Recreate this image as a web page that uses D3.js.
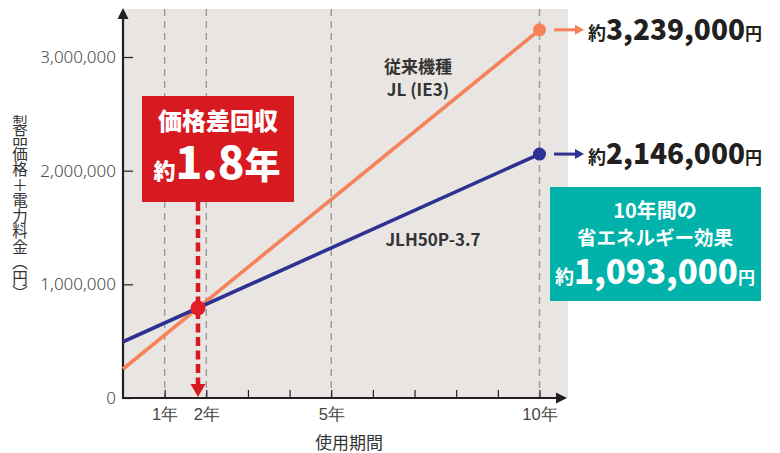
<!DOCTYPE html>
<html>
<head>
<meta charset="utf-8">
<script src="https://cdn.jsdelivr.net/npm/d3@7"></script>
<style>
  body { margin: 0; background: #fff; }
  svg { display: block; font-family: "Noto Sans CJK JP", "Noto Sans", sans-serif; }
</style>
</head>
<body>
<div id="chart"></div>
<script>
// chart values
const YEARS = [0, 10];
const JL_COST = [255000, 3239000];      // 従来機種 JL (IE3)
const JLH_COST = [495000, 2146000];     // JLH50P-3.7
const X_TICKS = [1, 2, 3, 4, 5, 6, 7, 8, 9, 10];
const X_LABELED = [1, 2, 5, 10];
const Y_TICKS = [0, 1000000, 2000000, 3000000];
const PAYBACK_LABEL = "1.8";
const SAVING_LABEL = "1,093,000";

const WIDTH = 780;
const HEIGHT = 453;
const ORANGE = "#F5825A";
const BLUE = "#2E3192";
const RED = "#D71920";
const TEAL = "#00B2A9";
const INK = "#231F20";

const svg = d3.select("#chart").append("svg")
  .attr("width", WIDTH)
  .attr("height", HEIGHT);

const xScale = d3.scaleLinear().domain([0, 10]).range([123, 539.5]);
const yScale = d3.scaleLinear().domain([0, 3000000]).range([398, 57]);
const x0 = xScale(0), yBase = yScale(0);

// plot background
svg.append("rect")
  .attr("x", x0).attr("y", 9)
  .attr("width", 568 - x0).attr("height", yBase - 9)
  .attr("fill", "#E8E5E2");

// dashed year guides
svg.append("g").selectAll("line")
  .data(X_LABELED)
  .join("line")
  .attr("x1", d => xScale(d)).attr("x2", d => xScale(d))
  .attr("y1", 9).attr("y2", yBase)
  .attr("stroke", "#9a9a9a")
  .attr("stroke-width", 1.4)
  .attr("stroke-dasharray", "7,5");

// y axis
const yAxis = svg.append("g")
  .attr("transform", `translate(${x0},0)`)
  .call(d3.axisLeft(yScale).tickValues(Y_TICKS).tickSize(-10).tickPadding(7)
    .tickFormat(d3.format(",")));
yAxis.select(".domain").remove();
yAxis.selectAll("line").attr("stroke", INK).attr("stroke-width", 1.2);
yAxis.selectAll("text")
  .attr("font-size", 17).attr("fill", "#4a4a4a")
  .attr("font-family", "'Noto Sans', sans-serif")
  .attr("font-weight", 300);

// x axis
const xAxis = svg.append("g")
  .attr("transform", `translate(0,${yBase})`)
  .call(d3.axisBottom(xScale).tickValues(X_TICKS).tickSize(-8).tickPadding(10)
    .tickFormat(d => X_LABELED.includes(d) ? d + "年" : ""));
xAxis.select(".domain").remove();
xAxis.selectAll("line").attr("stroke", INK).attr("stroke-width", 1.2);
xAxis.selectAll("text").attr("font-size", 16.5).attr("fill", "#444").attr("font-weight", 300);

// axis lines with arrowheads
svg.append("line")
  .attr("x1", x0).attr("x2", x0).attr("y1", yBase + 1).attr("y2", 16)
  .attr("stroke", INK).attr("stroke-width", 2.2);
svg.append("path")
  .attr("d", `M${x0},8 L${x0 - 5.5},19 L${x0 + 5.5},19 Z`)
  .attr("fill", INK);
svg.append("line")
  .attr("x1", x0 - 1).attr("x2", 560).attr("y1", yBase).attr("y2", yBase)
  .attr("stroke", INK).attr("stroke-width", 2.2);
svg.append("path")
  .attr("d", `M567,${yBase} L556,${yBase - 5.5} L556,${yBase + 5.5} Z`)
  .attr("fill", INK);

// cost lines
const line = d3.line().x(d => xScale(d[0])).y(d => yScale(d[1]));
const series = [
  { name: "JL", values: JL_COST, color: ORANGE },
  { name: "JLH", values: JLH_COST, color: BLUE },
];
svg.append("g").selectAll("path")
  .data(series)
  .join("path")
  .attr("d", s => line(YEARS.map((yr, i) => [yr, s.values[i]])))
  .attr("fill", "none")
  .attr("stroke", s => s.color)
  .attr("stroke-width", 3.6);

// end points
svg.append("g").selectAll("circle")
  .data(series)
  .join("circle")
  .attr("cx", s => xScale(YEARS[1]))
  .attr("cy", s => yScale(s.values[1]))
  .attr("r", 6.5)
  .attr("fill", s => s.color);

// break-even point
const slopeJL = (JL_COST[1] - JL_COST[0]) / (YEARS[1] - YEARS[0]);
const slopeJLH = (JLH_COST[1] - JLH_COST[0]) / (YEARS[1] - YEARS[0]);
const tCross = (JLH_COST[0] - JL_COST[0]) / (slopeJL - slopeJLH);
const vCross = JLH_COST[0] + slopeJLH * tCross;
const cx = xScale(tCross), cy = yScale(vCross);

// red dashed drop line
svg.append("line")
  .attr("x1", cx).attr("x2", cx).attr("y1", 202).attr("y2", 386)
  .attr("stroke", RED).attr("stroke-width", 4.5)
  .attr("stroke-dasharray", "9,4.5");
svg.append("path")
  .attr("d", `M${cx},${yBase - 1} L${cx - 7.5},${yBase - 14} L${cx + 7.5},${yBase - 14} Z`)
  .attr("fill", RED);
svg.append("circle")
  .attr("cx", cx).attr("cy", cy).attr("r", 7.5).attr("fill", "#E41E26");

// payback box
svg.append("rect")
  .attr("x", 142).attr("y", 96).attr("width", 152).attr("height", 106)
  .attr("fill", RED);
svg.append("text")
  .attr("x", 218).attr("y", 130)
  .attr("text-anchor", "middle")
  .attr("fill", "#fff").attr("font-size", 24).attr("font-weight", 900)
  .text("価格差回収");
const pay = svg.append("text")
  .attr("x", 217).attr("y", 179)
  .attr("text-anchor", "middle")
  .attr("fill", "#fff").attr("font-weight", 900);
pay.append("tspan").attr("font-size", 22).text("約");
pay.append("tspan").attr("font-size", 44).text(PAYBACK_LABEL);
pay.append("tspan").attr("font-size", 36).text("年");

// series labels
const seriesLabel = svg.append("g")
  .attr("fill", "#333").attr("font-size", 17).attr("font-weight", 700)
  .attr("text-anchor", "middle");
seriesLabel.append("text").attr("x", 418).attr("y", 73).text("従来機種");
seriesLabel.append("text").attr("x", 418).attr("y", 96).text("JL (IE3)");
seriesLabel.append("text").attr("x", 433).attr("y", 246).text("JLH50P-3.7");

// end value callouts
series.forEach(s => {
  const yy = yScale(s.values[1]);
  svg.append("line")
    .attr("x1", 554).attr("x2", 577).attr("y1", yy).attr("y2", yy)
    .attr("stroke", s.color).attr("stroke-width", 3);
  svg.append("path")
    .attr("d", `M584,${yy} L575,${yy - 5} L575,${yy + 5} Z`)
    .attr("fill", s.color);
  const t = svg.append("text")
    .attr("x", 588).attr("y", yy + 10)
    .attr("fill", INK).attr("font-weight", 700);
  t.append("tspan").attr("font-size", 18).text("約");
  t.append("tspan").attr("font-size", 28).attr("font-weight", 900)
    .text(d3.format(",")(Math.round(s.values[1] / 1000) * 1000));
  t.append("tspan").attr("font-size", 17).text("円");
});

// saving box
svg.append("rect")
  .attr("x", 550).attr("y", 187).attr("width", 211).attr("height", 114)
  .attr("fill", TEAL);
const saving = svg.append("g")
  .attr("fill", "#fff").attr("font-weight", 700).attr("text-anchor", "middle");
saving.append("text").attr("x", 655).attr("y", 218).attr("font-size", 20).text("10年間の");
saving.append("text").attr("x", 655).attr("y", 245).attr("font-size", 19.5).text("省エネルギー効果");
const sv = saving.append("text").attr("x", 655).attr("y", 284);
sv.append("tspan").attr("font-size", 19).text("約");
sv.append("tspan").attr("font-size", 33).attr("font-weight", 900).text(SAVING_LABEL);
sv.append("tspan").attr("font-size", 17).text("円");

// axis titles
svg.append("text")
  .attr("x", 349).attr("y", 449)
  .attr("text-anchor", "middle")
  .attr("font-size", 17).attr("fill", "#333")
  .text("使用期間");
svg.append("text")
  .attr("x", 20).attr("y", 115)
  .attr("font-size", 15.5).attr("fill", "#333")
  .style("writing-mode", "vertical-rl")
  .text("製品価格＋電力料金（円）");
</script>
</body>
</html>
